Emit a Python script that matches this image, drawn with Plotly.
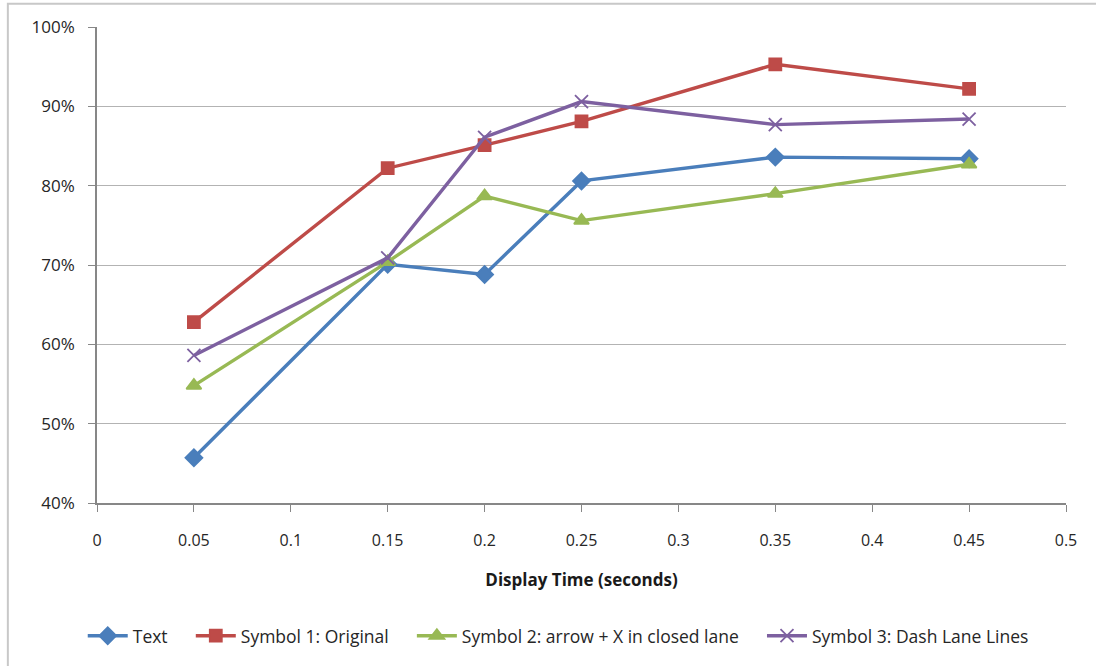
import plotly.graph_objects as go

# Display time (seconds) for each condition
display_time = [0.05, 0.15, 0.2, 0.25, 0.35, 0.45]

# Recognition rate per condition (fraction)
text_rate = [0.457, 0.701, 0.688, 0.806, 0.836, 0.834]
symbol1_rate = [0.628, 0.822, 0.851, 0.881, 0.953, 0.922]
symbol2_rate = [0.548, 0.704, 0.787, 0.756, 0.790, 0.827]
symbol3_rate = [0.586, 0.709, 0.861, 0.906, 0.877, 0.884]

series = [
    ("Text", text_rate, "#4a7ebb", "diamond", 13),
    ("Symbol 1: Original", symbol1_rate, "#be4b48", "square", 12),
    ("Symbol 2: arrow + X in closed lane", symbol2_rate, "#98b954", "triangle-up", 13),
    ("Symbol 3: Dash Lane Lines", symbol3_rate, "#7d60a0", "x-thin-open", 13),
]

# non-breaking spaces widen the gap between legend entries
pad = "\u00a0" * 4

fig = go.Figure()
for i, (name, vals, color, symbol, size) in enumerate(series):
    label = name + (pad if i < len(series) - 1 else "")
    fig.add_trace(go.Scatter(
        x=display_time, y=vals, name=label, mode="lines+markers",
        line=dict(color=color, width=3.4),
        marker=dict(symbol=symbol, size=size, color=color,
                    line=dict(color=color, width=1.8)),
    ))

font_family = "Open Sans, Liberation Sans, sans-serif"
axis_grey = "#878787"

fig.update_layout(
    width=1096, height=666,
    margin=dict(l=97, r=30, t=27, b=163),
    paper_bgcolor="white", plot_bgcolor="white",
    font=dict(family=font_family, size=16, color="#262626"),
    showlegend=True,
    legend=dict(orientation="h", x=0.476, xanchor="center", y=-0.279,
                yanchor="middle", font=dict(size=17.5, color="#262626"),
                itemwidth=40, tracegroupgap=0),
    xaxis=dict(
        range=[0, 0.5], tickmode="array",
        tickvals=[0, 0.05, 0.1, 0.15, 0.2, 0.25, 0.3, 0.35, 0.4, 0.45, 0.5],
        ticktext=["0", "0.05", "0.1", "0.15", "0.2", "0.25", "0.3", "0.35", "0.4", "0.45", "0.5"],
        showgrid=False, zeroline=False,
        showline=True, linecolor=axis_grey, linewidth=1.6,
        ticks="outside", ticklen=7, tickcolor=axis_grey, tickwidth=1.3,
        tickfont=dict(size=16),
        ticklabelstandoff=15,
        title=dict(text="<b>Display Time (seconds)</b>", standoff=24,
                   font=dict(size=17, color="#1a1a1a")),
    ),
    yaxis=dict(
        range=[0.4, 1.0], tickmode="array",
        tickvals=[0.4, 0.5, 0.6, 0.7, 0.8, 0.9, 1.0],
        ticktext=["40%", "50%", "60%", "70%", "80%", "90%", "100%"],
        showgrid=True, gridcolor="#b3b3b3", gridwidth=1.4,
        zeroline=False,
        showline=True, linecolor=axis_grey, linewidth=1.6,
        ticks="outside", ticklen=7, tickcolor=axis_grey, tickwidth=1.3,
        tickfont=dict(size=17),
        ticklabelstandoff=10,
    ),
)

# Chart-area frame
fig.add_shape(type="rect", xref="paper", yref="paper",
              x0=-0.092, x1=1.2, y0=-0.5, y1=1.049,
              line=dict(color="#c8c8c8", width=2), layer="below")

fig.write_html("out.html")
